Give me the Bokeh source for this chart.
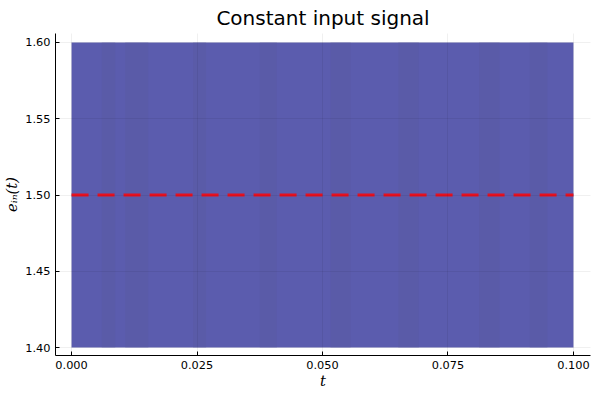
from bokeh.plotting import figure
from bokeh.embed import file_html
from bokeh.resources import INLINE
from bokeh.models import Range1d, FixedTicker

# ---- data ----
t_span = [0.0, 0.1]
signal_low = [1.4, 1.4]
signal_high = [1.6, 1.6]
reference_level = [1.5, 1.5]
x_ticks = [0.0, 0.025, 0.05, 0.075, 0.1]
y_ticks = [1.40, 1.45, 1.50, 1.55, 1.60]
# slightly darker stripes seen in the dense signal (t start / t end)
stripe_t0 = [0.0060, 0.0107, 0.0242, 0.0375, 0.0516, 0.0651, 0.0812, 0.0913]
stripe_t1 = [0.0087, 0.0153, 0.0268, 0.0409, 0.0556, 0.0692, 0.0853, 0.0948]

x_lo, x_hi = -0.0032, 0.1034
y_lo, y_hi = 1.3948, 1.6059

p = figure(width=592, height=392, output_backend="svg", toolbar_location=None,
           title="Constant input signal",
           x_range=Range1d(x_lo, x_hi), y_range=Range1d(y_lo, y_hi),
           min_border_left=53, min_border_right=2, min_border_top=23, min_border_bottom=37)

p.title.align = "center"
p.title.text_font = "DejaVu Sans"
p.title.text_font_size = "15pt"
p.title.text_font_style = "normal"
p.title.text_color = "black"
p.title.text_line_height = 0.9
p.title.standoff = 7
p.title.offset = 0

p.varea(x=t_span, y1=signal_low, y2=signal_high, fill_color="#5b5cae", fill_alpha=1.0)
p.quad(left=stripe_t0, right=stripe_t1, bottom=[signal_low[0]] * len(stripe_t0),
       top=[signal_high[0]] * len(stripe_t0), fill_color="#585a9f", fill_alpha=0.35, line_color=None)
p.line(x=t_span, y=reference_level, line_color="#e8101e", line_width=3, line_dash="17 9")

for ax in (p.xaxis[0], p.yaxis[0]):
    ax.major_label_text_font = "DejaVu Sans"
    ax.major_label_text_font_size = "8.5pt"
    ax.major_label_text_color = "black"
    ax.major_label_text_line_height = 1.0
    ax.major_label_standoff = 5
    ax.axis_line_color = "black"
    ax.axis_line_width = 1
    ax.major_tick_line_color = "black"
    ax.major_tick_in = 4
    ax.major_tick_out = 0
    ax.minor_tick_line_color = None
    ax.axis_label_text_font = "DejaVu Serif"
    ax.axis_label_text_font_style = "italic"
    ax.axis_label_text_font_size = "11pt"
    ax.axis_label_text_line_height = 1.0
    ax.axis_label_text_color = "black"

p.xaxis[0].ticker = FixedTicker(ticks=x_ticks)
p.yaxis[0].ticker = FixedTicker(ticks=y_ticks)
p.xaxis[0].major_label_overrides = {v: f"{v:.3f}" for v in x_ticks}
p.yaxis[0].major_label_overrides = {v: f"{v:.2f}" for v in y_ticks}
p.xaxis[0].axis_label = "t"
p.yaxis[0].axis_label = "eᵢₙ(t)"
p.xaxis[0].axis_label_standoff = 0
p.yaxis[0].axis_label_standoff = 2

p.xgrid.ticker = FixedTicker(ticks=x_ticks)
p.ygrid.ticker = FixedTicker(ticks=y_ticks)
p.grid.grid_line_color = "black"
p.grid.grid_line_alpha = 0.06
p.grid.level = "overlay"
p.outline_line_color = None
p.background_fill_color = "white"

open("out.html", "w").write(file_html(p, INLINE))
